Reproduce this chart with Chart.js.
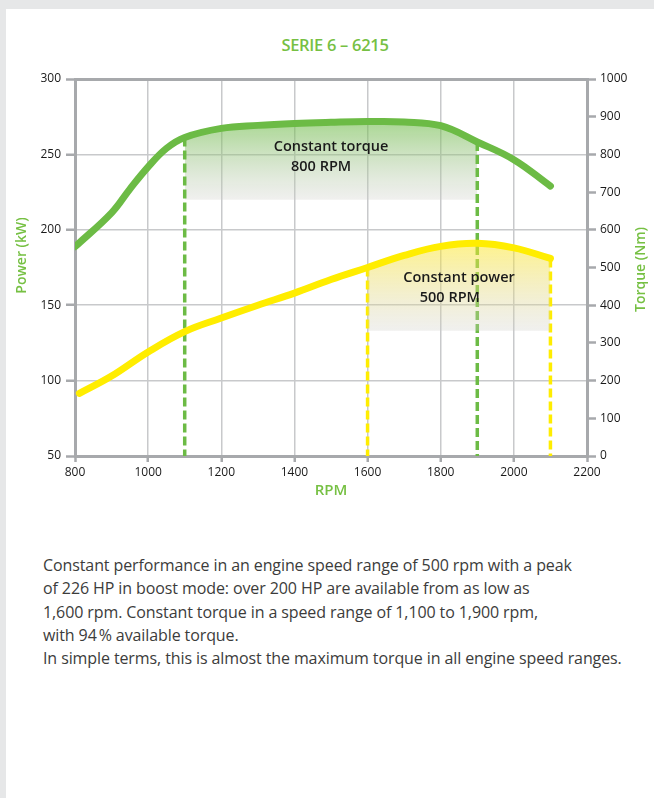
<!DOCTYPE html>
<html>
<head>
<meta charset="utf-8">
<script src="https://cdn.jsdelivr.net/npm/chart.js@4.4.1/dist/chart.umd.min.js"></script>
<style>
  html, body { margin: 0; padding: 0; }
  body { width: 654px; height: 798px; background: #e6e7e8; position: relative; overflow: hidden; }
  #panel { position: absolute; left: 6px; top: 9px; right: 0; bottom: 0; background: #fff; }
  #chart { position: absolute; left: 0; top: 0; }
  #title {
    position: absolute; left: 0; width: 670px; top: 33px; text-align: center;
    font-family: "Open Sans", sans-serif; font-weight: 600; font-size: 16.5px;
    color: #76c043; letter-spacing: -0.3px;
  }
  #note {
    position: absolute; left: 43px; top: 554px; width: 610px;
    font-family: "Open Sans", sans-serif; font-size: 16px; line-height: 23.3px;
    color: #3c3c3b; letter-spacing: -0.1px;
  }
</style>
</head>
<body>
<div id="panel"></div>
<div id="title">SERIE 6 – 6215</div>
<canvas id="chart" width="654" height="520"></canvas>
<div id="note">
  Constant performance in an engine speed range of 500 rpm with a peak<br>
  of 226 HP in boost mode: over 200 HP are available from as low as<br>
  1,600 rpm. Constant torque in a speed range of 1,100 to 1,900 rpm,<br>
  with 94&#8239;% available torque.<br>
  In simple terms, this is almost the maximum torque in all engine speed ranges.
</div>
<script>
// torque curve (right axis, Nm)
const torqueRpm = [800, 900, 950, 1000, 1050, 1100, 1200, 1300, 1400, 1500, 1600, 1700, 1800, 1900, 2000, 2100];
const torqueNm = [555, 645, 708, 767, 816, 845, 869, 877, 882, 885, 887, 886, 876, 833, 786, 716];

// power curve (left axis, kW)
const powerRpm = [812, 900, 1000, 1100, 1200, 1300, 1400, 1500, 1600, 1700, 1800, 1900, 2000, 2100];
const powerKw = [91.5, 103, 119, 132.5, 141.5, 150, 158, 167, 175, 183, 189, 191, 188, 181];

// constant ranges
const torqueRange = [1100, 1900];
const torqueBandFloor = 680;
const powerRange = [1600, 2100];
const powerBandFloor = 133;

// axis ticks
const rpmTicks = [800, 1000, 1200, 1400, 1600, 1800, 2000, 2200];
const kwTicks = [50, 100, 150, 200, 250, 300];
const nmTicks = [0, 100, 200, 300, 400, 500, 600, 700, 800, 900, 1000];

// in-chart labels (data units)
const labels = [
  { text: "Constant torque", x: 1500, y: 820, axis: "yR" },
  { text: "800 RPM", x: 1473, y: 767, axis: "yR" },
  { text: "Constant power", x: 1850, y: 168, axis: "y" },
  { text: "500 RPM", x: 1825, y: 155, axis: "y" },
];

const green = "#6cbb45";
const yellow = "#ffed00";
const axisGray = "#a7a9ac";
const gridGray = "#c8c9cb";
const font = '"Open Sans", sans-serif';

function points(xs, ys) {
  return xs.map((x, i) => ({ x: x, y: ys[i] }));
}
function inRange(xs, ys, range) {
  return points(xs, ys).filter((p) => p.x >= range[0] && p.x <= range[1]);
}
function valueAt(xs, ys, x) {
  return ys[xs.indexOf(x)];
}
function dropLine(xs, ys, x, floor) {
  return [{ x: x, y: valueAt(xs, ys, x) }, { x: x, y: floor }];
}

function bandGradient(axisId, topValue, floor, topColor, bottomColor) {
  return (ctx) => {
    const chart = ctx.chart;
    if (!chart.chartArea) return null;
    const scale = chart.scales[axisId];
    const g = chart.ctx.createLinearGradient(0, scale.getPixelForValue(topValue), 0, scale.getPixelForValue(floor));
    g.addColorStop(0, topColor);
    g.addColorStop(1, bottomColor);
    return g;
  };
}

const textPlugin = {
  id: "texts",
  afterDatasetsDraw(chart) {
    const c = chart.ctx;
    const area = chart.chartArea;
    c.save();
    c.fillStyle = "#1a1a1a";
    c.font = "600 14.5px " + font;
    c.textAlign = "center";
    c.textBaseline = "middle";
    labels.forEach((l) => {
      c.fillText(l.text, chart.scales.x.getPixelForValue(l.x), chart.scales[l.axis].getPixelForValue(l.y));
    });
    c.fillStyle = "#76c043";
    c.font = "600 15px " + font;
    c.fillText("RPM", (area.left + area.right) / 2, area.bottom + 35);
    c.font = "600 14px " + font;
    c.translate(area.left - 53, (area.top + area.bottom) / 2 - 12);
    c.rotate(-Math.PI / 2);
    c.fillText("Power (kW)", 0, 0);
    c.restore();
    c.save();
    c.fillStyle = "#76c043";
    c.font = "600 14px " + font;
    c.textAlign = "center";
    c.textBaseline = "middle";
    c.translate(area.right + 54, (area.top + area.bottom) / 2 + 2);
    c.rotate(-Math.PI / 2);
    c.fillText("Torque (Nm)", 0, 0);
    c.restore();
  },
};

const dashed = (data, color, axis) => ({
  data: data,
  yAxisID: axis,
  borderColor: color,
  borderWidth: 3.5,
  borderDash: [9, 4],
  pointRadius: 0,
  fill: false,
  tension: 0,
  order: 3,
});

const tickFont = { family: font, size: 12 };
const plain = (v) => String(v);

new Chart(document.getElementById("chart"), {
  type: "line",
  data: {
    datasets: [
      {
        data: points(torqueRpm, torqueNm),
        yAxisID: "yR",
        borderColor: green,
        borderWidth: 7,
        borderCapStyle: "round",
        tension: 0.4,
        pointRadius: 0,
        fill: false,
        order: 0,
      },
      {
        data: points(powerRpm, powerKw),
        yAxisID: "y",
        borderColor: yellow,
        borderWidth: 7,
        borderCapStyle: "round",
        tension: 0.4,
        pointRadius: 0,
        fill: false,
        order: 0,
      },
      {
        data: inRange(torqueRpm, torqueNm, torqueRange),
        yAxisID: "yR",
        borderWidth: 0,
        pointRadius: 0,
        tension: 0.4,
        fill: { value: torqueBandFloor },
        backgroundColor: bandGradient("yR", 890, torqueBandFloor, "rgba(108,187,69,0.6)", "rgba(205,205,200,0.3)"),
        order: 6,
      },
      dashed(dropLine(torqueRpm, torqueNm, torqueRange[0], 0), green, "yR"),
      dashed(dropLine(torqueRpm, torqueNm, torqueRange[1], 0), green, "yR"),
      {
        data: inRange(powerRpm, powerKw, powerRange),
        yAxisID: "y",
        borderWidth: 0,
        pointRadius: 0,
        tension: 0.4,
        fill: { value: powerBandFloor },
        backgroundColor: bandGradient("y", 192, powerBandFloor, "rgba(255,232,40,0.55)", "rgba(205,205,200,0.3)"),
        order: 2,
      },
      dashed(dropLine(powerRpm, powerKw, powerRange[0], 50), yellow, "y"),
      dashed(dropLine(powerRpm, powerKw, powerRange[1], 50), yellow, "y"),
    ],
  },
  options: {
    responsive: false,
    animation: false,
    layout: { padding: { top: 79, left: 0, right: 0, bottom: 0 } },
    plugins: { legend: { display: false }, tooltip: { enabled: false } },
    scales: {
      x: {
        type: "linear",
        min: rpmTicks[0],
        max: rpmTicks[rpmTicks.length - 1],
        afterBuildTicks: (s) => { s.ticks = rpmTicks.map((v) => ({ value: v })); },
        afterFit: (s) => { s.height = 64; },
        ticks: { color: "#1a1a1a", font: tickFont, padding: 3, callback: plain },
        grid: {
          color: (c) => (c.tick && (c.tick.value === 800 || c.tick.value === 2200) ? axisGray : gridGray),
          lineWidth: (c) => (c.tick && (c.tick.value === 800 || c.tick.value === 2200) ? 3 : 1.5),
          tickColor: axisGray,
          tickWidth: 2.5,
          tickLength: 6,
        },
        border: { display: true, color: axisGray, width: 3 },
      },
      y: {
        position: "left",
        min: kwTicks[0],
        max: kwTicks[kwTicks.length - 1],
        afterBuildTicks: (s) => { s.ticks = kwTicks.map((v) => ({ value: v })); },
        afterFit: (s) => { s.width = 75; },
        ticks: { color: "#1a1a1a", font: tickFont, padding: 5, callback: plain },
        grid: {
          color: (c) => (c.tick && (c.tick.value === 300 || c.tick.value === 50) ? axisGray : gridGray),
          lineWidth: (c) => (c.tick && (c.tick.value === 300 || c.tick.value === 50) ? 3 : 1.5),
          tickColor: axisGray,
          tickWidth: 2.5,
          tickLength: 9,
        },
        border: { display: true, color: axisGray, width: 3 },
      },
      yR: {
        position: "right",
        min: nmTicks[0],
        max: nmTicks[nmTicks.length - 1],
        afterBuildTicks: (s) => { s.ticks = nmTicks.map((v) => ({ value: v })); },
        afterFit: (s) => { s.width = 67; },
        ticks: { color: "#1a1a1a", font: tickFont, padding: 4, callback: plain },
        grid: {
          drawOnChartArea: false,
          tickColor: axisGray,
          tickWidth: 2.5,
          tickLength: 9,
        },
        border: { display: true, color: axisGray, width: 3 },
      },
    },
  },
  plugins: [textPlugin],
});
</script>
</body>
</html>
